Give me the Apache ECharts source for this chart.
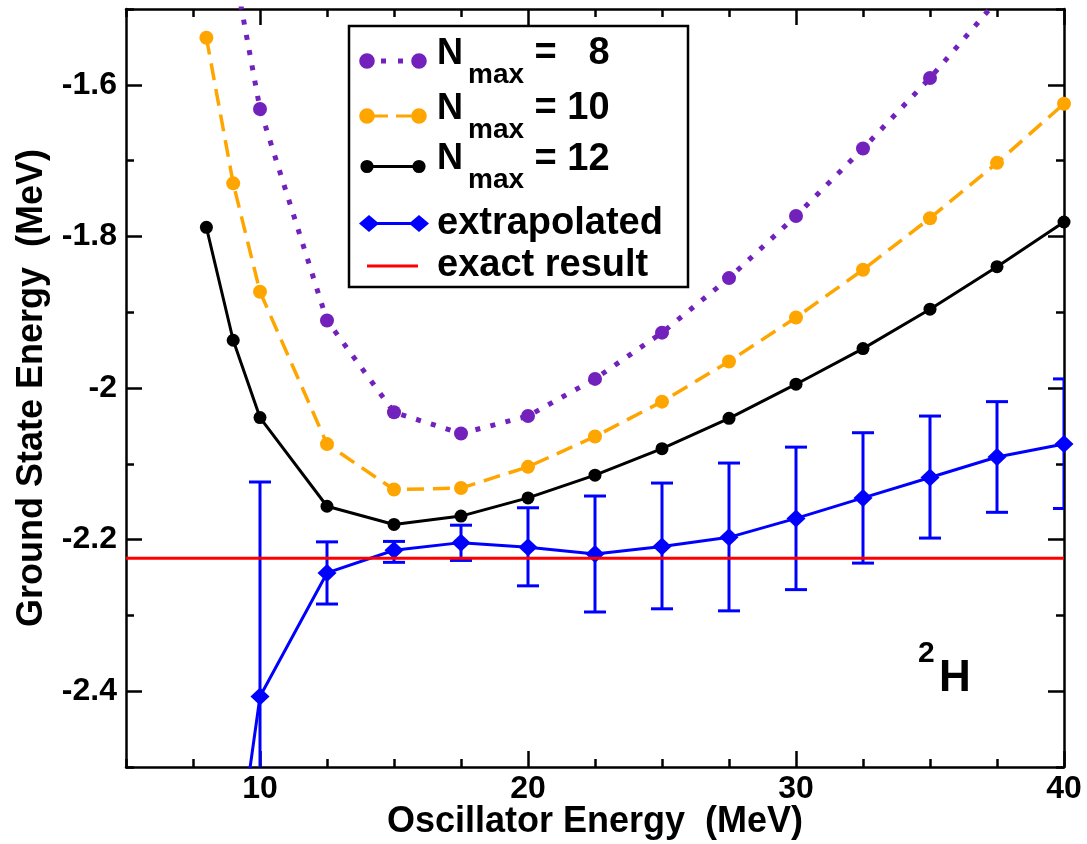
<!DOCTYPE html>
<html>
<head>
<meta charset="utf-8">
<script src="https://cdn.jsdelivr.net/npm/echarts@6/dist/echarts.min.js"></script>
<style>
html, body { margin: 0; padding: 0; background: #fff; }
#chart { width: 1087px; height: 844px; }
</style>
</head>
<body>
<div id="chart"></div>
<script>
// ---- data ----
const xVals = [8, 9, 10, 12.5, 15, 17.5, 20, 22.5, 25, 27.5, 30, 32.5, 35, 37.5, 40];
const nmax8 = [-1.17, -1.44, -1.632, -1.911, -2.032, -2.060, -2.037, -1.988, -1.927, -1.855, -1.773, -1.684, -1.591, -1.489, -1.38];
const nmax10 = [-1.538, -1.730, -1.873, -2.074, -2.134, -2.132, -2.104, -2.064, -2.018, -1.965, -1.907, -1.844, -1.776, -1.703, -1.625];
const nmax12 = [-1.788, -1.937, -2.039, -2.156, -2.180, -2.169, -2.145, -2.115, -2.080, -2.040, -1.995, -1.948, -1.896, -1.840, -1.781];
const xExtrap = [9, 10, 12.5, 15, 17.5, 20, 22.5, 25, 27.5, 30, 32.5, 35, 37.5, 40];
const extrap = [-2.66, -2.407, -2.244, -2.214, -2.204, -2.210, -2.219, -2.209, -2.197, -2.172, -2.145, -2.118, -2.091, -2.074];
const errLow = [null, -2.69, -2.285, -2.230, -2.2275, -2.261, -2.2955, -2.2913, -2.294, -2.266, -2.231, -2.198, -2.164, -2.159];
const errHigh = [null, -2.124, -2.203, -2.2024, -2.181, -2.158, -2.1425, -2.1254, -2.099, -2.078, -2.059, -2.037, -2.018, -1.988];
const exactResult = -2.2246;
const xRange = [5, 40];
const yRange = [-2.5, -1.5];
const xMajorTicks = [10, 20, 30, 40];
const yMajorTicks = [-2.4, -2.2, -2, -1.8, -1.6];
const seriesNames = ['Nmax = 8', 'Nmax = 10', 'Nmax = 12', 'extrapolated', 'exact result'];

// ---- build ----
const FONT = "'Liberation Sans', Arial, Helvetica, sans-serif";
const C8 = '#7221bc', C10 = '#ffa500', C12 = '#000000', CE = '#0000ff', CX = '#ff0000';
const AXW = 2.5;

function xAxisDef(pos, major, withLabels) {
  return {
    type: 'value', position: pos, min: xRange[0], max: xRange[1],
    interval: major ? undefined : 2.5,
    splitLine: { show: false },
    axisLine: { show: !major, onZero: false, lineStyle: { color: '#000', width: AXW } },
    axisTick: major
      ? { show: true, inside: true, length: 16, customValues: xMajorTicks, lineStyle: { color: '#000', width: AXW } }
      : { show: true, inside: true, length: 8, lineStyle: { color: '#000', width: AXW } },
    axisLabel: withLabels ? {
      show: true, margin: 6, color: '#000', fontFamily: FONT, fontWeight: 'bold', fontSize: 32,
      formatter: v => (Math.abs(v % 10) < 1e-9 ? String(v) : '')
    } : { show: false },
    name: withLabels ? 'Oscillator Energy  (MeV)' : '',
    nameLocation: 'middle', nameGap: 37, nameMoveOverlap: false,
    nameTextStyle: { color: '#000', fontFamily: FONT, fontWeight: 'bold', fontSize: 36 }
  };
}
function yAxisDef(pos, major, withLabels) {
  return {
    type: 'value', position: pos, min: yRange[0], max: yRange[1],
    interval: major ? undefined : 0.1,
    splitLine: { show: false },
    axisLine: { show: !major, onZero: false, lineStyle: { color: '#000', width: AXW } },
    axisTick: major
      ? { show: true, inside: true, length: 16, customValues: yMajorTicks, lineStyle: { color: '#000', width: AXW } }
      : { show: true, inside: true, length: 8, lineStyle: { color: '#000', width: AXW } },
    axisLabel: withLabels ? {
      show: true, margin: 9, color: '#000', fontFamily: FONT, fontWeight: 'bold', fontSize: 32,
      formatter: v => { const k = Math.round(v * 10); return (k % 2 === 0) ? String(k / 10) : ''; }
    } : { show: false },
    name: withLabels ? 'Ground State Energy  (MeV)' : '',
    nameLocation: 'middle', nameGap: 76, nameMoveOverlap: false,
    nameTextStyle: { color: '#000', fontFamily: FONT, fontWeight: 'bold', fontSize: 36 }
  };
}

function corners(w, h) {
  return `M0 0 L0.01 0 L0 0.01 Z M${w} ${h} L${w - 0.01} ${h} L${w} ${h - 0.01} Z `;
}
const IW = 73, IH = 18;
function circ(cx, cy, r) {
  return `M${cx - r} ${cy} A${r} ${r} 0 1 1 ${cx + r} ${cy} A${r} ${r} 0 1 1 ${cx - r} ${cy} Z `;
}
function rect(x1, y1, x2, y2) {
  return `M${x1} ${y1} L${x2} ${y1} L${x2} ${y2} L${x1} ${y2} Z `;
}
const icons = [
  'path://' + corners(IW, IH) + circ(8, 9, 7.8) + circ(60, 9, 7.8) + rect(22, 6.5, 27, 11.5) + rect(39, 6.5, 44, 11.5),
  'path://' + corners(IW, IH) + circ(8, 9, 7.8) + circ(60, 9, 7.8) + rect(15, 7.5, 29, 10.5) + rect(37, 7.5, 53, 10.5),
  'path://' + corners(IW, IH) + circ(8, 9, 6.6) + circ(60, 9, 6.6) + rect(8, 7.6, 60, 10.4),
  'path://' + corners(IW, IH) + 'M0 9 L10 0.5 L20 9 L10 17.5 Z M50 9 L60 0.5 L70 9 L60 17.5 Z ' + rect(10, 7.6, 60, 10.4),
  'path://' + corners(IW, IH) + rect(8, 7.5, 59, 10.5)
];

const legendText = {
  'Nmax = 8': '{n|N}{s|max}{r| =   8}',
  'Nmax = 10': '{n|N}{s|max}{r| = 10}',
  'Nmax = 12': '{n|N}{s|max}{r| = 12}',
  'extrapolated': 'extrapolated',
  'exact result': 'exact result'
};
// top of each legend item box (icon centre = top + half item height)
const legendTops = [35, 90, 140.5, 204.5, 247];

const legends = seriesNames.map((nm, i) => ({
  orient: 'vertical', left: 359, top: legendTops[i],
  padding: 0, itemGap: 0,
  itemWidth: IW, itemHeight: IH, symbolKeepAspect: true,
  selectedMode: false, z: 10,
  itemStyle: { borderWidth: 0 },
  data: [{ name: nm, icon: icons[i] }],
  formatter: name => legendText[name],
  textStyle: {
    color: '#000', fontFamily: FONT, fontWeight: 'bold', fontSize: 38,
    rich: {
      n: { fontFamily: FONT, fontWeight: 'bold', fontSize: 36, padding: [1, 0, 0, 0], lineHeight: 30, verticalAlign: 'top', color: '#000' },
      s: { fontFamily: FONT, fontWeight: 'bold', fontSize: 28, padding: [26, 0, 0, 5], lineHeight: 52, verticalAlign: 'top', color: '#000' },
      r: { fontFamily: FONT, fontWeight: 'bold', fontSize: 38, lineHeight: 30, verticalAlign: 'top', color: '#000' }
    }
  }
}));

const errData = xExtrap.map((x, i) => [x, errLow[i], errHigh[i]]).filter(d => d[1] != null);

const option = {
  animation: false,
  backgroundColor: '#fff',
  grid: { left: 126, right: 23, top: 9, bottom: 77, containLabel: false, outerBoundsMode: 'none' },
  xAxis: [xAxisDef('bottom', false, true), xAxisDef('bottom', true, false), xAxisDef('top', false, false), xAxisDef('top', true, false)],
  yAxis: [yAxisDef('left', false, true), yAxisDef('left', true, false), yAxisDef('right', false, false), yAxisDef('right', true, false)],
  legend: legends,
  graphic: [
    { type: 'rect', z: 9, shape: { x: 349, y: 26, width: 339, height: 261 },
      style: { fill: '#fff', stroke: '#000', lineWidth: 2.5 } },
    { type: 'text', x: 918, y: 654, z: 100,
      style: { text: '2', font: `bold 30px ${FONT}`, fill: '#000', textAlign: 'left', verticalAlign: 'middle' } },
    { type: 'text', x: 939, y: 679, z: 100,
      style: { text: 'H', font: `bold 44px ${FONT}`, fill: '#000', textAlign: 'left', verticalAlign: 'middle' } }
  ],
  series: [
    {
      name: seriesNames[0], type: 'line', xAxisIndex: 0, yAxisIndex: 0, clip: true, z: 3,
      color: C8,
      data: xVals.map((x, i) => [x, nmax8[i]]),
      symbol: 'circle', symbolSize: 14,
      itemStyle: { color: C8, borderWidth: 0 },
      lineStyle: { color: C8, width: 5, type: [5, 10.5], cap: 'butt' }
    },
    {
      name: seriesNames[1], type: 'line', xAxisIndex: 0, yAxisIndex: 0, clip: true, z: 3,
      color: C10,
      data: xVals.map((x, i) => [x, nmax10[i]]),
      symbol: 'circle', symbolSize: 14,
      itemStyle: { color: C10, borderWidth: 0 },
      lineStyle: { color: C10, width: 3.5, type: [17, 9] }
    },
    {
      name: seriesNames[2], type: 'line', xAxisIndex: 0, yAxisIndex: 0, clip: true, z: 3,
      color: C12,
      data: xVals.map((x, i) => [x, nmax12[i]]),
      symbol: 'circle', symbolSize: 13,
      itemStyle: { color: C12, borderWidth: 0 },
      lineStyle: { color: C12, width: 3 }
    },
    {
      name: 'errorbars', type: 'custom', xAxisIndex: 0, yAxisIndex: 0, clip: true, z: 4,
      data: errData,
      encode: { x: 0, y: [1, 2] },
      renderItem: (params, api) => {
        const x = api.value(0), lo = api.value(1), hi = api.value(2);
        const pHi = api.coord([x, hi]), pLo = api.coord([x, lo]);
        const w = 11;
        const st = { stroke: CE, lineWidth: 3 };
        return {
          type: 'group',
          children: [
            { type: 'line', shape: { x1: pHi[0], y1: pHi[1], x2: pLo[0], y2: pLo[1] }, style: st },
            { type: 'line', shape: { x1: pHi[0] - w, y1: pHi[1], x2: pHi[0] + w, y2: pHi[1] }, style: st },
            { type: 'line', shape: { x1: pLo[0] - w, y1: pLo[1], x2: pLo[0] + w, y2: pLo[1] }, style: st }
          ]
        };
      }
    },
    {
      name: seriesNames[3], type: 'line', xAxisIndex: 0, yAxisIndex: 0, clip: true, z: 5,
      color: CE,
      data: xExtrap.map((x, i) => [x, extrap[i]]),
      symbol: 'diamond', symbolSize: [19, 18],
      itemStyle: { color: CE, borderWidth: 0 },
      lineStyle: { color: CE, width: 3 }
    },
    {
      name: seriesNames[4], type: 'line', xAxisIndex: 0, yAxisIndex: 0, clip: true, z: 6,
      color: CX,
      data: [[xRange[0], exactResult], [xRange[1], exactResult]],
      symbol: 'none',
      lineStyle: { color: CX, width: 3 }
    }
  ]
};

const chart = echarts.init(document.getElementById('chart'), null, { renderer: 'canvas' });
chart.setOption(option);
</script>
</body>
</html>
